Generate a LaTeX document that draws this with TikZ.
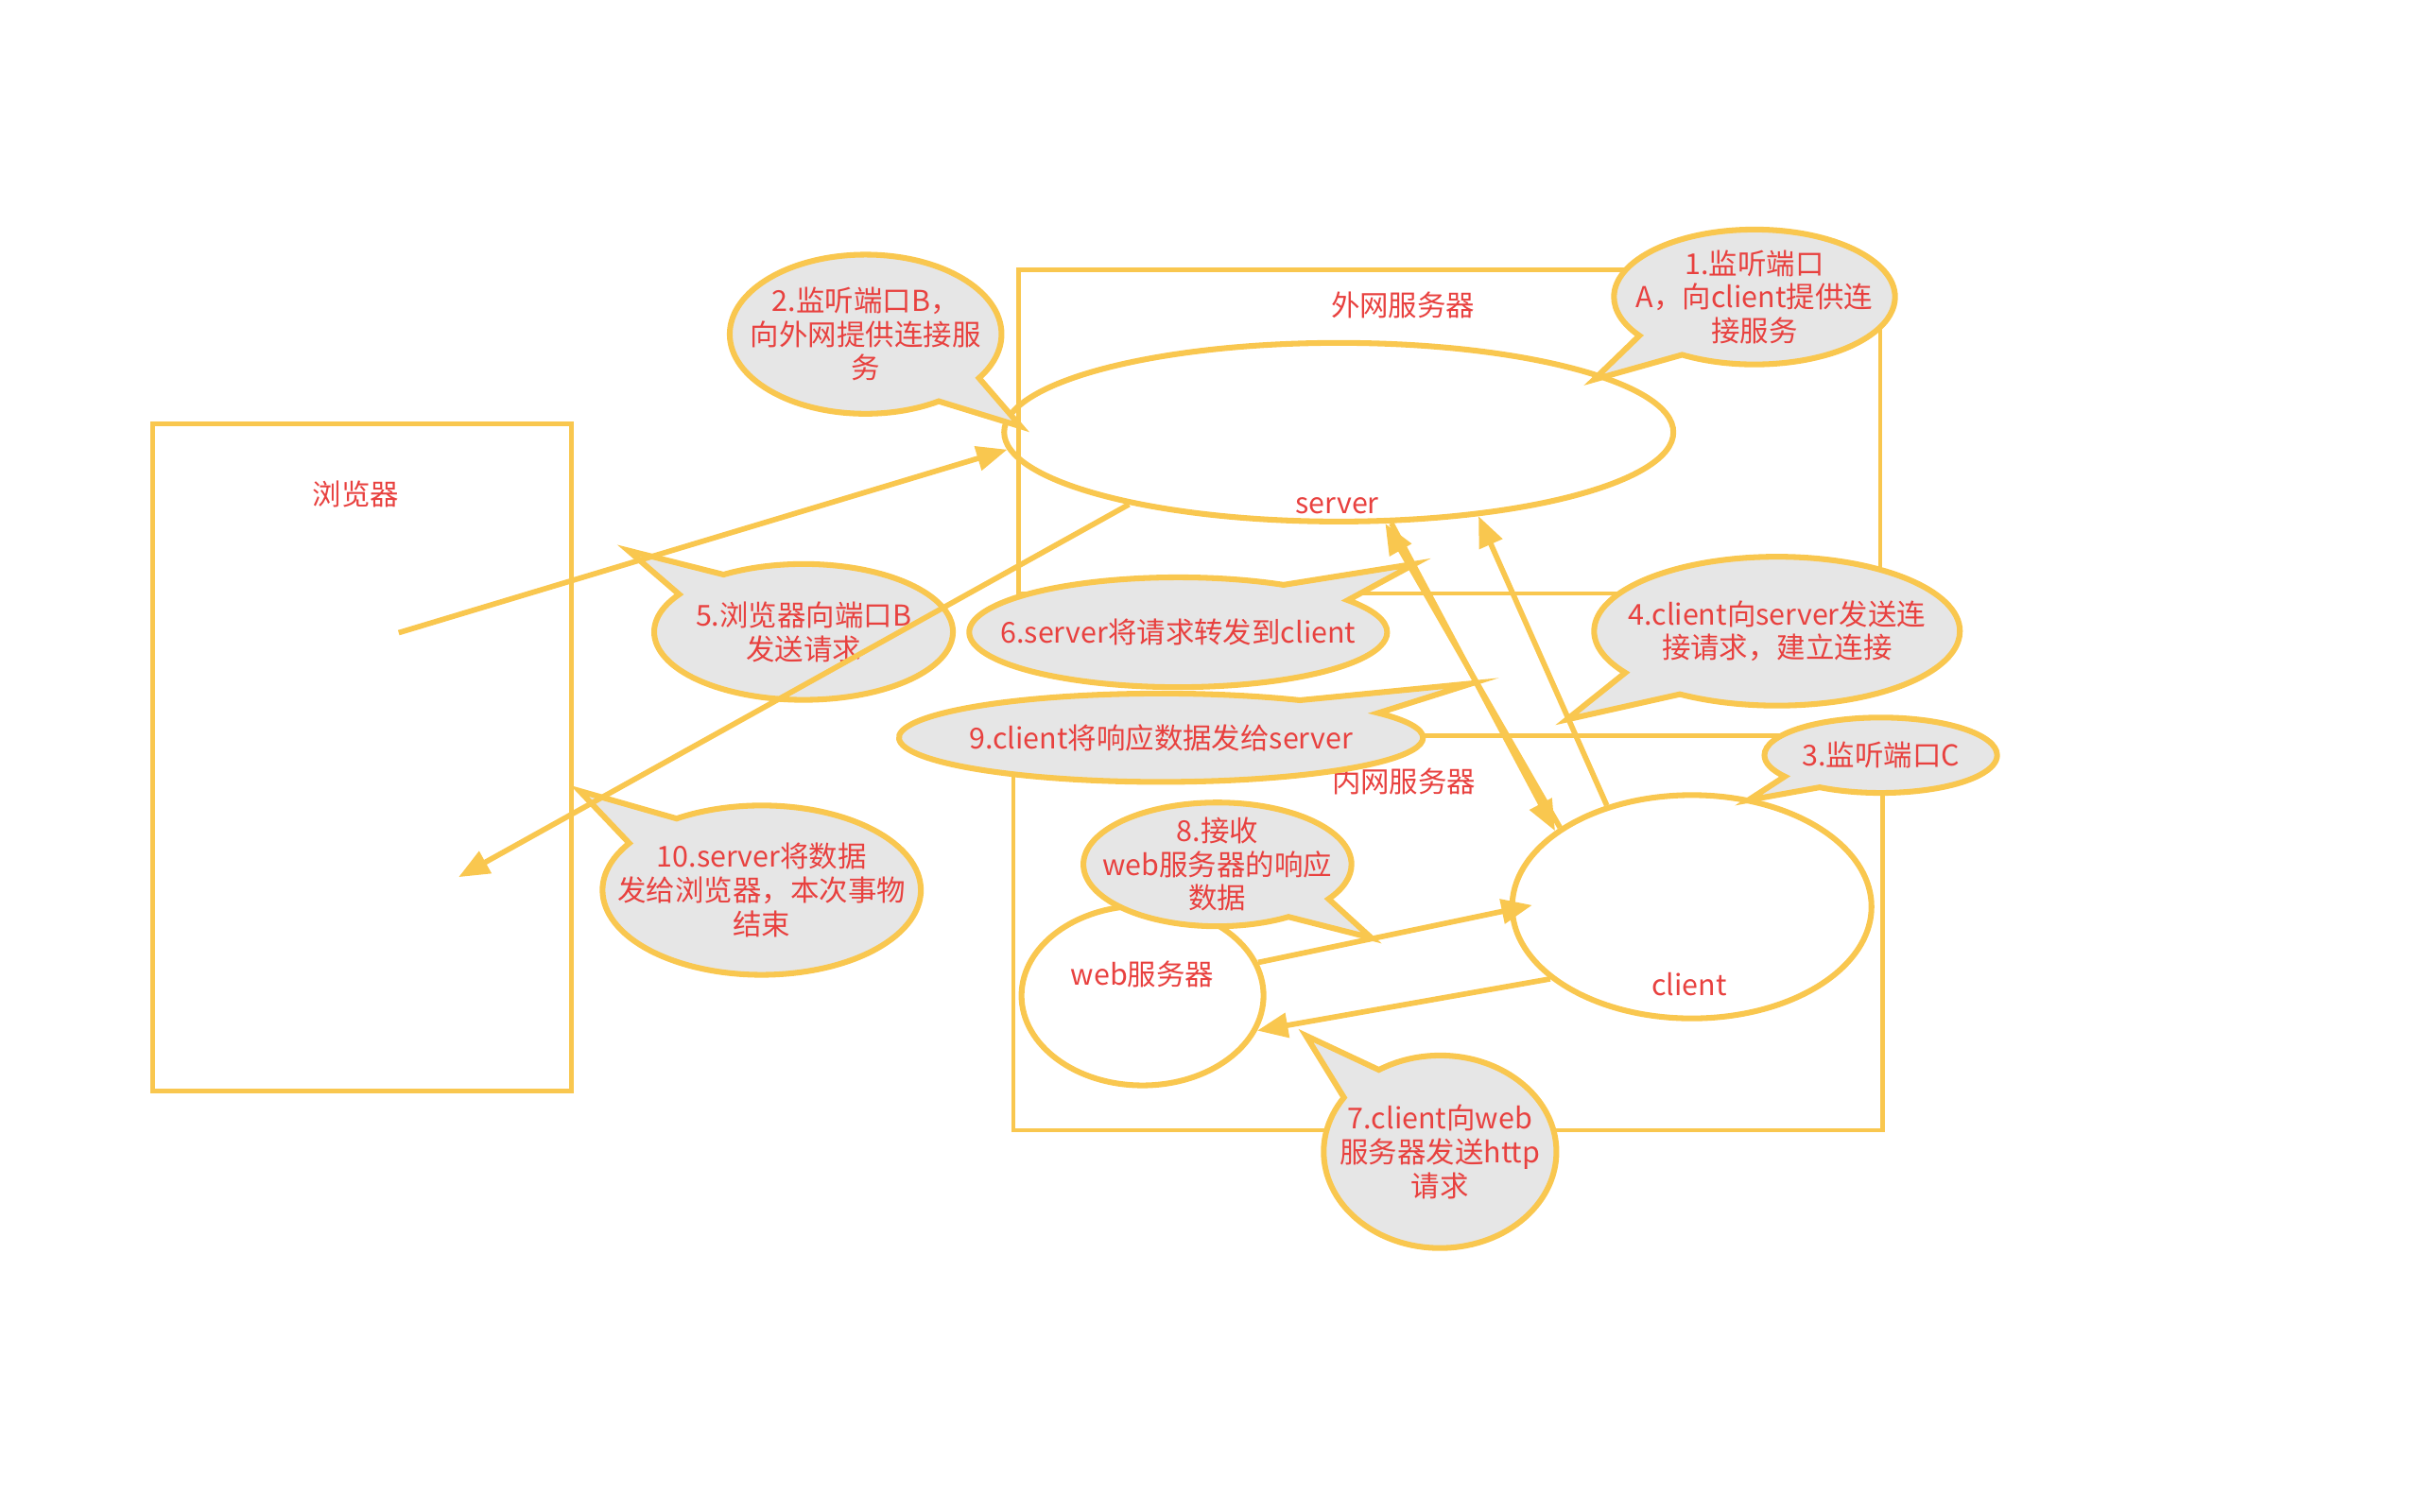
\documentclass[tikz,border=0pt]{standalone}
\usepackage{fontspec}
\setmainfont{Noto Sans CJK SC}
\usetikzlibrary{arrows.meta, shapes.geometric, shapes.callouts}

\definecolor{netyellow}{HTML}{F9C74F}
\definecolor{notered}{HTML}{E8413F}
\definecolor{notegray}{HTML}{E6E6E6}

\tikzset{
  frame/.style={draw=netyellow, line width=1.35pt, rectangle, inner sep=0pt},
  host/.style={draw=netyellow, line width=1.75pt, ellipse, inner sep=0pt},
  note/.style={ellipse callout, draw=netyellow, fill=notegray, line width=1.75pt,
    inner sep=0pt, callout pointer arc=24},
  tag/.style={text=notered, font=\fontsize{8.8}{10.3}\selectfont, align=center, inner sep=0pt},
  flow/.style={draw=netyellow, line width=1.65pt, -{Triangle[length=0.33cm, width=0.26cm]}}
}

\begin{document}
\begin{tikzpicture}[x=0.16667mm, y=-0.16667mm]
  \useasboundingbox (0,0) rectangle (1560,975);
  % boxes
  \node[frame, minimum width=4.5cm, minimum height=7.17cm] (browser) at (233.3,488.5) {};
  \node[frame, minimum width=9.26cm, minimum height=3.48cm] (outer) at (934.2,278.2) {};
  \node[frame, minimum width=9.34cm, minimum height=4.24cm] (inner) at (933.5,601.7) {};
  \node[tag] (browserlbl) at (229.5,318.4) {浏览器};
  \node[tag] (outerlbl) at (904.4,196.9) {外网服务器};
  \node[tag] (innerlbl) at (905,503.8) {内网服务器};
  % hosts
  \node[host, minimum width=7.19cm, minimum height=1.92cm] (server) at (863,278.7) {};
  \node[host, minimum width=3.86cm, minimum height=2.4cm] (client) at (1090.6,584.7) {};
  \node[host, minimum width=2.6cm, minimum height=1.93cm] (web) at (736.5,642) {};
  \node[tag] (serverlbl) at (862,326) {server};
  \node[tag] (clientlbl) at (1089,635) {client};
  \node[tag] (weblbl) at (736.5,628.3) {web服务器};
  % steps
  \node[note, minimum width=3.02cm, minimum height=1.45cm, callout absolute pointer={(1027.5,244.8)},
    label={[tag]center:{1.监听端口\\A，向client提供连\\接服务}}] (step1) at (1131,191.5) {};
  \node[note, minimum width=2.92cm, minimum height=1.71cm, callout absolute pointer={(658,275)},
    label={[tag]center:{2.监听端口B，\\向外网提供连接服\\务}}] (step2) at (558,215.5) {};
  \node[note, minimum width=2.5cm, minimum height=0.81cm, callout absolute pointer={(1127,516)},
    label={[tag]center:{3.监听端口C}}] (step3) at (1212.4,487) {};
  \node[note, minimum width=3.93cm, minimum height=1.6cm, callout absolute pointer={(1010,464)},
    label={[tag]center:{4.client向server发送连\\接请求，建立连接}}] (step4) at (1145.5,407) {};
  \node[note, minimum width=3.21cm, minimum height=1.46cm, callout absolute pointer={(405,355)},
    label={[tag]center:{5.浏览器向端口B\\发送请求}}] (step5) at (518,407.5) {};
  \node[note, minimum width=4.49cm, minimum height=1.18cm, callout absolute pointer={(912,363.6)},
    label={[tag]center:{6.server将请求转发到client}}] (step6) at (759.5,407.7) {};
  \node[note, minimum width=2.5cm, minimum height=2.07cm, callout absolute pointer={(841.8,667.8)},
    label={[tag]center:{7.client向web\\服务器发送http\\请求}}] (step7) at (928.3,742.7) {};
  \node[note, minimum width=2.88cm, minimum height=1.33cm, callout absolute pointer={(884,604.8)},
    label={[tag]center:{8.接收\\web服务器的响应\\数据}}] (step8) at (784.8,557.4) {};
  \node[note, minimum width=5.63cm, minimum height=0.95cm, callout absolute pointer={(948.8,440.7)},
    label={[tag]center:{9.client将响应数据发给server}}] (step9) at (748.4,475.7) {};
  \node[note, minimum width=3.42cm, minimum height=1.82cm, callout absolute pointer={(373.6,510)},
    label={[tag]center:{10.server将数据\\发给浏览器，本次事物\\结束}}] (step10) at (491,574) {};
  % traffic
  \coordinate (bOut) at (257,408);
  \coordinate (bIn) at (295.6,565.6);
  \draw[flow] (bOut) -- (server.183);
  \draw[flow] (server.199) -- (bIn);
  \draw[flow] (server.300) -- (client.151);
  \draw[flow] (client.149) -- (server.297);
  \draw[flow] (client.130) -- (server.329);
  \draw[flow, shorten >=-0.25cm] (web.16) -- (client.181);
  \draw[flow] (client.207) -- (web.343);
\end{tikzpicture}
\end{document}
